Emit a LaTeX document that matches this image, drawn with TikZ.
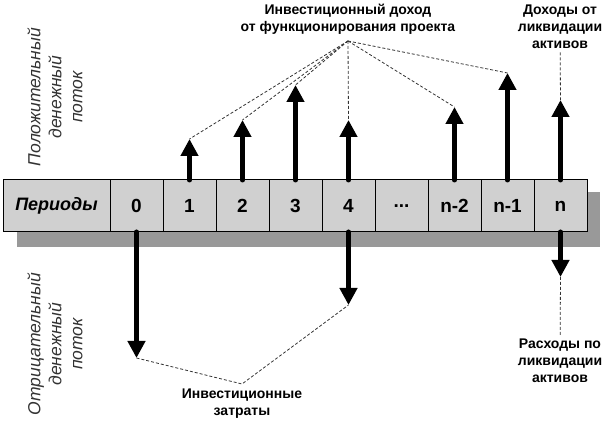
\documentclass[tikz,border=0pt]{standalone}
\usepackage{fontspec}
\setmainfont{Liberation Sans}
\usepackage{xcolor}
\usetikzlibrary{chains,arrows.meta}
\definecolor{cellgray}{RGB}{208,208,208}
\definecolor{shadowgray}{RGB}{153,153,153}
\begin{document}
\begin{tikzpicture}[x=1pt, y=1pt,
    cell/.style={rectangle, draw, fill=cellgray, line width=1pt, inner sep=0pt,
      outer sep=0pt, minimum width=53pt, minimum height=52pt,
      font=\fontsize{19}{22}\selectfont\bfseries},
    flow/.style={line width=5pt, line cap=round, ->},
    lbl/.style={align=center, font=\fontsize{14}{17}\selectfont\bfseries},
    side/.style={align=center, rotate=90, text=black!80,
      font=\fontsize{17.5}{21}\selectfont\itshape},
    link/.style={densely dashed, line width=0.8pt, black!80},
    >={Triangle[width=17pt,length=17pt]}, start chain=going right, node distance=0pt]

  \useasboundingbox (0,0) rectangle (606,423);
  \fill[shadowgray] (17,176) rectangle (600,231);

  \node[cell, on chain, minimum width=107pt,
    font=\fontsize{18}{22}\selectfont\bfseries\itshape] (P) at (56.5,217) {Периоды};
  \foreach \n/\t in {c0/0,c1/1,c2/2,c3/3,c4/4,cd/{...},cn2/n-2,cn1/n-1,cn/n}
    \node[cell, on chain] (\n) {\t};

  \foreach \n/\h in {c1/41,c2/60,c3/95,c4/60,cn2/73,cn1/107,cn/80} {
    \path (\n.north) ++(0,\h) coordinate (u-\n);
    \draw[flow] (\n.north) -- (u-\n);
  }
  \foreach \n/\h in {c0/126,c4/73,cn/45} {
    \path (\n.south) ++(0,-\h) coordinate (d-\n);
    \draw[flow] (\n.south) -- (d-\n);
  }

  \node[lbl] (inc) at (348,404) {Инвестиционный доход\\от функционирования проекта};
  \coordinate (hub) at (348,382);
  \foreach \n in {c1,c2,c3,c4,cn2,cn1}
    \draw[link] (hub) -- (u-\n);

  \node[lbl] (liqin) at (560,396) {Доходы от\\ликвидации\\активов};
  \draw[link] (liqin) -- (u-cn);

  \node[lbl] (inv) at (242,19.5) {Инвестиционные\\затраты};
  \coordinate (hub2) at (242,39);
  \draw[link] (d-c0) -- (hub2) -- (d-c4);

  \node[lbl] (liqout) at (560,62) {Расходы по\\ликвидации\\активов};
  \draw[link] (d-cn) -- (liqout);

  \node[side] (pos) at (55,326) {Положительный\\денежный\\поток};
  \node[side] (neg) at (55,79) {Отрицательный\\денежный\\поток};
\end{tikzpicture}
\end{document}
